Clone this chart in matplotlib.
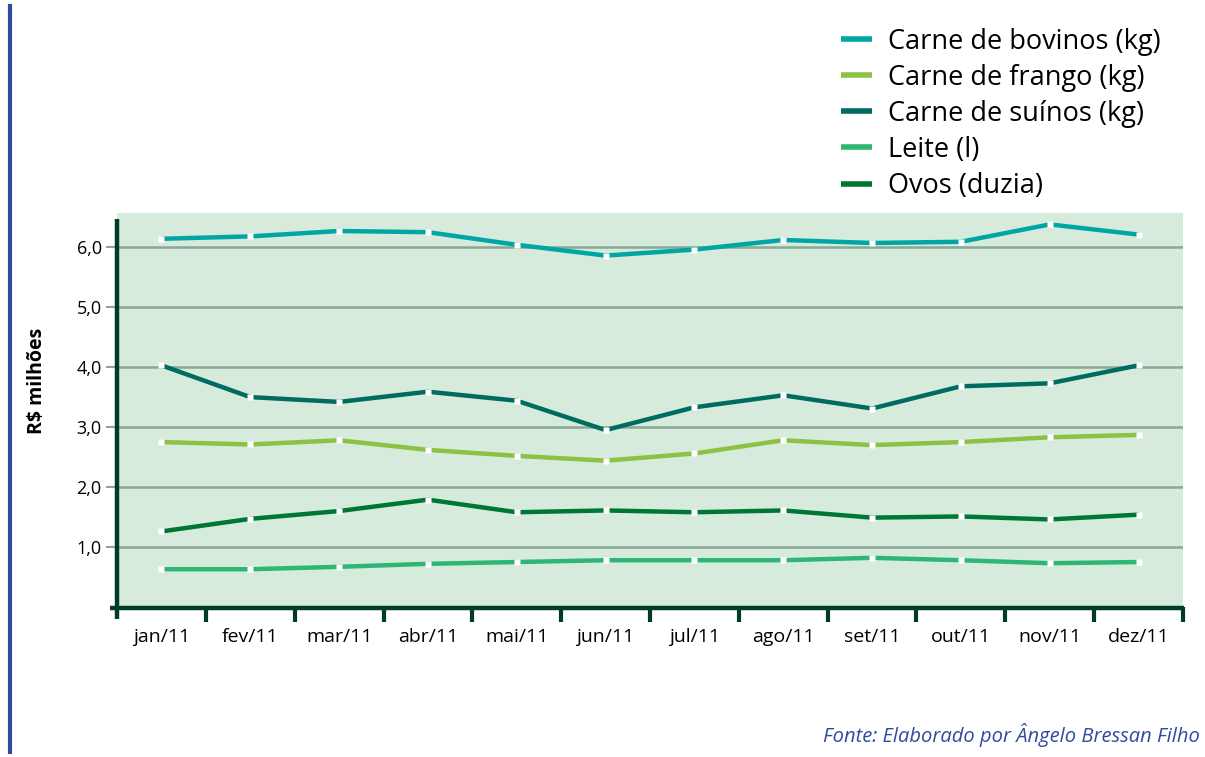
import matplotlib
matplotlib.use('Agg')
import matplotlib.pyplot as plt
from matplotlib.lines import Line2D

plt.rcParams['font.family'] = ['Open Sans', 'DejaVu Sans']

# Dados (R$ milhões)
meses = ['jan/11', 'fev/11', 'mar/11', 'abr/11', 'mai/11', 'jun/11',
         'jul/11', 'ago/11', 'set/11', 'out/11', 'nov/11', 'dez/11']
bovinos = [6.14, 6.18, 6.27, 6.25, 6.04, 5.86, 5.96, 6.12, 6.07, 6.09, 6.38, 6.21]
frango = [2.75, 2.71, 2.78, 2.62, 2.52, 2.44, 2.56, 2.78, 2.70, 2.75, 2.83, 2.87]
suinos = [4.03, 3.50, 3.42, 3.59, 3.44, 2.95, 3.33, 3.53, 3.31, 3.68, 3.73, 4.03]
leite = [0.63, 0.63, 0.67, 0.72, 0.75, 0.78, 0.78, 0.78, 0.82, 0.78, 0.73, 0.75]
ovos = [1.26, 1.47, 1.60, 1.79, 1.58, 1.61, 1.58, 1.61, 1.49, 1.51, 1.46, 1.54]

series = [
    ('Carne de bovinos (kg)', bovinos, '#00a6a6'),
    ('Carne de frango (kg)', frango, '#8cc143'),
    ('Carne de suínos (kg)', suinos, '#006b60'),
    ('Leite (l)', leite, '#2eb675'),
    ('Ovos (duzia)', ovos, '#007634'),
]

dark = '#003d26'
grid_c = '#8aa898'

fig = plt.figure(figsize=(12.05, 7.57), dpi=100)
ax = fig.add_axes([117 / 1205, 1 - 607 / 757, (1183 - 117) / 1205, (607 - 213) / 757])
ax.set_facecolor('#d6ebdc')

x = list(range(len(meses)))
for label, vals, color in series:
    ax.plot(x, vals, color=color, lw=3.2, solid_capstyle='butt', zorder=3)
    ax.plot(x, vals, linestyle='none', marker='s', ms=5, mfc='white', mec='none', zorder=4)

ax.set_xlim(-0.5, 11.5)
ax.set_ylim(0, 6.57)

# grade e marcas do eixo y
ax.set_yticks([1, 2, 3, 4, 5, 6])
ax.set_yticklabels(['1,0', '2,0', '3,0', '4,0', '5,0', '6,0'], fontsize=13)
ax.yaxis.grid(True, color=grid_c, lw=1.8, zorder=1)
ax.tick_params(axis='y', length=8, width=1.5, color=grid_c, pad=3)

# marcas do eixo x nos limites das categorias (a primeira é o próprio eixo)
ax.set_xticks([i + 0.5 for i in range(12)])
ax.set_xticklabels([])
ax.set_xticks(x, minor=True)
ax.set_xticklabels(meses, minor=True, fontsize=14)
ax.tick_params(axis='x', which='major', length=11, width=3, color=dark, direction='out')
ax.tick_params(axis='x', which='minor', length=0, pad=15)

for s in ax.spines.values():
    s.set_visible(False)

# eixos desenhados à mão (ultrapassam a área)
ax.add_line(Line2D([117, 117], [757 - 219, 757 - 619], transform=None, color=dark, lw=3.2,
                   solid_capstyle='butt', zorder=5, clip_on=False))
ax.add_line(Line2D([110, 1184], [757 - 608, 757 - 608], transform=None, color=dark, lw=3.2,
                   solid_capstyle='butt', zorder=5, clip_on=False))

ax.set_ylabel('R$ milhões', fontsize=14, fontweight='bold')
ax.yaxis.set_label_coords(-0.066, 0.575)

# legenda
handles = [Line2D([0], [0], color=c, lw=4, solid_capstyle='butt') for _, _, c in series]
labels = [l for l, _, _ in series]
fig.legend(handles, labels, loc='upper left', bbox_to_anchor=(827 / 1205, 1 - 14 / 757),
           frameon=False, fontsize=19.5, handlelength=1.15, handletextpad=0.6, labelspacing=0.3,
           borderpad=0)

# linha azul lateral
fig.add_artist(Line2D([10 / 1205, 10 / 1205], [1 - 6 / 757, 1 - 752 / 757], color='#2e4b9c', lw=3))

fig.text(1200 / 1205, 1 - 735 / 757, 'Fonte: Elaborado por Ângelo Bressan Filho',
         ha='right', va='center', fontsize=14.5, style='italic', color='#2e4b9c')

fig.savefig('out.png', dpi=100, facecolor='white')
